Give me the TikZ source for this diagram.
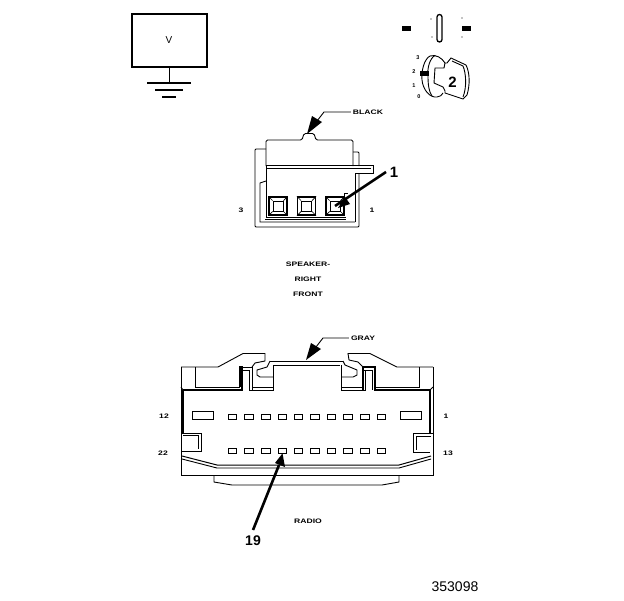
\documentclass[tikz,border=0pt]{standalone}
\usepackage{fontspec}
\setmainfont{Liberation Sans}
\newfontfamily\widefont[FakeStretch=1.32]{Liberation Sans}
\tikzset{
 ln/.style={line width=0.9pt,line join=miter},
 thin ln/.style={line width=0.7pt},
 heavy/.style={line width=1.4pt},
 tiny lab/.style={font=\widefont\fontsize{6.5}{7}\selectfont\bfseries,inner sep=0pt},
 key lab/.style={font=\fontsize{5.5}{6}\selectfont\bfseries,inner sep=0pt},
 big lab/.style={font=\fontsize{15}{17}\selectfont,inner sep=0pt},
 pin/.style={draw,line width=0.7pt,minimum width=8.5pt,minimum height=5pt,inner sep=0pt},
}
\begin{document}
\begin{tikzpicture}[x=1pt,y=-1pt]
\useasboundingbox (0,0) rectangle (624,600);
% voltmeter
\node[draw,line width=1.5pt,minimum width=75pt,minimum height=53pt,inner sep=0pt] (vbox) at (169.5,40.5) {};
\node[font=\fontsize{10}{11}\selectfont,inner sep=0pt] (vlab) at (169,40) {V};
\coordinate (g0) at (169.5,83);
\draw[heavy] (vbox.south) -- (g0);
\draw[heavy] (147,83) -- (191,83);
\draw[heavy] (155,90) -- (183,90);
\draw[heavy] (162,97) -- (176,97);
% top-right symbols
\fill (402,26) rectangle (411,31);
\fill (462,26) rectangle (471,31);
\draw[line width=1.3pt,rounded corners=2.5pt] (437,14.5) rectangle (442,42);
\fill (431,19) circle (0.6) (432,37) circle (0.6) (462,18) circle (0.6) (462,37) circle (0.6);
\node[key lab] (k3) at (418,58) {3};
\node[key lab] (k2) at (414,72) {2};
\node[key lab] (k1) at (414,86) {1};
\node[key lab] (k0) at (419,97) {0};
% key
\draw[ln] (445,63) .. controls (442,58) and (436,54) .. (430,56) .. controls (424,59) and (421,72) .. (422,80) .. controls (423,90) and (430,98) .. (437,97) .. controls (440,97) and (442,95) .. (443,93);
\draw[ln] (435,55.5) .. controls (430,58) and (427,68) .. (428,76) .. controls (428,85) and (429,92) .. (432,96);
\draw[ln] (445,63) -- (444,68) -- (435,68) -- (434,83) -- (443,87) -- (445,91) -- (445,93) -- (463,99) -- (467,95) .. controls (470,85) and (470,73) .. (466,65) -- (451,58) -- (447,63) -- (445,63);
\draw[ln] (452,61) -- (463,66) .. controls (466,73) and (467,87) .. (463,97);
\fill (420,71) rectangle (429,76);
\node[big lab,font=\fontsize{15}{17}\selectfont\bfseries] (two) at (452.5,82) {2};
% speaker connector
\draw[ln,rounded corners=1.5pt] (266,166) -- (266,140) -- (302,140) -- (304,133.5) -- (314,133.5) -- (316,140) -- (353,140) -- (353,166);
\draw[ln,rounded corners=1pt] (266,149) -- (255,149) -- (255,227) -- (359,227) -- (359,173);
\draw[ln,rounded corners=1pt] (353,152) -- (359,152) -- (359,166);
\draw[ln] (266,165.5) -- (373,165.5) -- (373,173) -- (355,173) -- (355,222);
\draw[ln] (266,168.5) -- (371,168.5);
\draw[line width=1pt] (266,166) -- (266,217) -- (346,217);
\draw[line width=0.8pt] (265,219) -- (346,219);
\draw[ln] (266,181) -- (260,183) -- (260,222) -- (355,222);
\draw[thin ln] (344,193) -- (348,193);
\draw[thin ln] (344,193) -- (344,197);
\foreach \n/\cx in {a/278,b/306.5,c/335}{
 \node[draw,line width=1.1pt,minimum size=18pt,inner sep=0pt] (p\n) at (\cx,206) {};
 \node[draw,line width=0.8pt,minimum size=10pt,inner sep=0pt] (q\n) at (\cx,206) {};
 \draw[thin ln] (p\n.north west) -- (q\n.north west) (p\n.north east) -- (q\n.north east) (p\n.south west) -- (q\n.south west) (p\n.south east) -- (q\n.south east);
}
\node[tiny lab] (s3) at (241,210) {3};
\node[tiny lab] (s1) at (372,210) {1};
\node[tiny lab] (black) at (368,112) {BLACK};
\coordinate (bk1) at (324,112);
\coordinate (bktip) at (307,134);
\draw[ln] (black.west) ++(-2,0) -- (bk1) -- (317,121);
\fill (bktip) -- (312,116) -- (322,122) -- cycle;
\node[big lab,font=\fontsize{15}{17}\selectfont\bfseries] (one) at (394,172) {1};
\draw[line width=2.6pt] (386,172) -- (qc.center);
\fill (338,208) -- (345,197) -- (350,204) -- cycle;
\node[tiny lab] (sp1) at (308,264) {SPEAKER-};
\node[tiny lab] (sp2) at (308,279) {RIGHT};
\node[tiny lab] (sp3) at (308,294) {FRONT};
% radio connector outline
\draw[ln] (181,367) -- (181,475) -- (433,475) -- (433,367);
\draw[ln] (181,367) -- (218,367) -- (243,353.5) -- (265,353.5) -- (265,361) -- (255,363) -- (252,367);
\draw[ln] (195,367) -- (195,387) -- (240,387);
\draw[line width=1.1pt] (183,390) -- (242,390) -- (242,367) -- (240,367) -- (240,387);
\draw[ln] (242,370) -- (250,370);
\draw[ln] (240,367) -- (252,367) -- (252,390);
\draw[line width=1pt] (249,370) -- (249,390) -- (273,390) -- (273,365) -- (340,365);
\draw[ln] (252,387) -- (273,387);
\draw[ln] (270,361) -- (343,361);
\draw[ln] (270,361) -- (267,367) -- (257,370) -- (257,375) -- (260,377) -- (273,377);
% right side mirror
\draw[ln] (419,367) -- (419,387) -- (375,387);
\draw[ln] (433,367) -- (397,367) -- (370,353.5) -- (348,353.5) -- (349,360) -- (358,362) -- (363,367);
\draw[line width=1.1pt] (430,390) -- (375,390) -- (375,367) -- (363,367) -- (363,390);
\draw[ln] (364,370) -- (372,370);
\draw[line width=1pt] (372,370) -- (372,390);
\draw[line width=1pt] (365,370) -- (365,390) -- (341,390) -- (341,365);
\draw[ln] (363,387) -- (341,387);
\draw[ln] (343,361) -- (345,365) -- (357,370) -- (357,375) -- (353,377) -- (341,377);
% side walls
\draw[line width=1.2pt] (183,390) -- (183,433);
\draw[line width=1.2pt] (430,390) -- (430,433);
\draw[ln] (181,387) -- (183,390) (433,387) -- (430,390);
% latches
\draw[line width=1pt] (181,433) -- (201,433) -- (201,451) -- (181,451);
\draw[ln] (183,435) -- (198,435) -- (198,449);
\draw[line width=1pt] (433,433) -- (413,433) -- (413,452) -- (430,452);
\draw[ln] (431,436) -- (416,436) -- (416,450);
% bottom taper
\draw[line width=1pt] (182,456) -- (217,465) -- (399,465) -- (431,456);
\draw[ln] (182,459) -- (217,468) -- (399,468) -- (431,459);
\draw[ln] (214,475) -- (214,482) -- (232,485) -- (382,485) -- (399,482) -- (399,475);
% slots
\node[draw,line width=0.8pt,minimum width=21pt,minimum height=8pt,inner sep=0pt] (sl) at (202.5,415) {};
\node[draw,line width=0.8pt,minimum width=21pt,minimum height=8pt,inner sep=0pt] (sr) at (410.5,415) {};
\foreach \i/\cx in {1/232.5,2/249,3/266,4/282.5,5/298.5,6/315,7/331.5,8/348,9/365,10/381.5}{
 \node[pin] (t\i) at (\cx,416.5) {};
 \node[pin] (u\i) at (\cx,450.5) {};
}
\node[tiny lab] (r12) at (164,416) {12};
\node[tiny lab] (r22) at (163,453) {22};
\node[tiny lab] (r1) at (446,416) {1};
\node[tiny lab] (r13) at (448,453) {13};
\node[tiny lab] (gray) at (363,338) {GRAY};
\coordinate (gy1) at (323,338);
\coordinate (gytip) at (306,360);
\draw[ln] (gray.west) ++(-2,0) -- (gy1) -- (316,347);
\fill (gytip) -- (311,343) -- (321,349) -- cycle;
\node[tiny lab] (radio) at (308,521) {RADIO};
\node[big lab,font=\fontsize{14}{16}\selectfont\bfseries] (n19) at (253,541) {19};
\coordinate (a19) at (253,530);
\draw[line width=2.6pt] (a19) -- (279,465);
\fill (u4.south) -- (275,463) -- (285,467) -- cycle;
\node[font=\fontsize{14}{16}\selectfont,inner sep=0pt] (id) at (455,587) {353098};
\end{tikzpicture}
\end{document}
